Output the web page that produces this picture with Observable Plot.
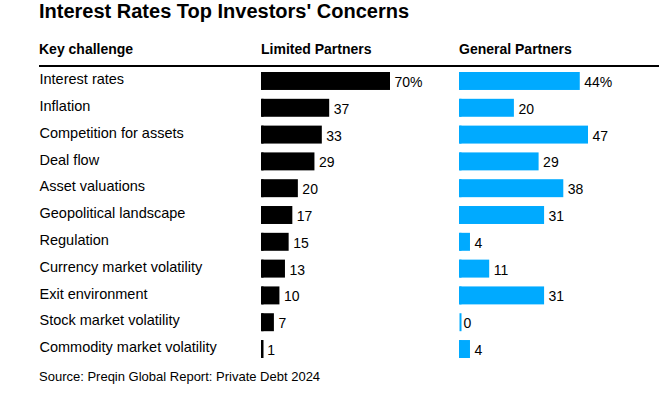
<!DOCTYPE html>
<html>
<head>
<meta charset="utf-8">
<script src="https://cdn.jsdelivr.net/npm/d3@7"></script>
<script src="https://cdn.jsdelivr.net/npm/@observablehq/plot@0.6"></script>
<style>
  html, body { margin: 0; padding: 0; background: #fff; }
  #wrap { position: relative; width: 659px; height: 394px; overflow: hidden; font-family: "Liberation Sans", Arial, sans-serif; color: #000; }
  .abs { position: absolute; white-space: nowrap; }
  #title { left: 39px; top: 0px; font-size: 20px; font-weight: bold; line-height: 22px; }
  .hdr { top: 40px; font-size: 14px; font-weight: bold; line-height: 18px; }
  #rule { left: 39px; top: 65px; width: 620px; height: 2px; background: #000; }
  #source { left: 39px; top: 369px; font-size: 13px; line-height: 16px; }
  #lp, #gp { position: absolute; top: 0; }
  #lp { left: 0; }
  #gp { left: 440px; }
  svg { overflow: visible; }
</style>
</head>
<body>
<div id="wrap">
  <div id="title" class="abs">Interest Rates Top Investors' Concerns</div>
  <div class="abs hdr" style="left:39px">Key challenge</div>
  <div class="abs hdr" style="left:261px">Limited Partners</div>
  <div class="abs hdr" style="left:459px">General Partners</div>
  <div id="rule" class="abs"></div>
  <div id="lp"></div>
  <div id="gp"></div>
  <div id="source" class="abs">Source: Preqin Global Report: Private Debt 2024</div>
</div>
<script>
const challenges = [
  "Interest rates",
  "Inflation",
  "Competition for assets",
  "Deal flow",
  "Asset valuations",
  "Geopolitical landscape",
  "Regulation",
  "Currency market volatility",
  "Exit environment",
  "Stock market volatility",
  "Commodity market volatility"
];
const limitedPartners = [70, 37, 33, 29, 20, 17, 15, 13, 10, 7, 1];
const generalPartners = [44, 20, 47, 29, 38, 31, 4, 11, 31, 0, 4];

const font = "Liberation Sans, Arial, sans-serif";
const H = 370, MT = 72, MB = 12;

function rows(values) {
  return challenges.map((name, i) => ({name, v: values[i], label: i === 0 ? values[i] + "%" : String(values[i])}));
}

function panel(values, color, opts) {
  const data = rows(values);
  const marks = [
    Plot.barX(data, {y: "name", x1: 0, x2: "v", fill: color}),
    Plot.tickX(data, {y: "name", x: 0, stroke: color, strokeWidth: 2, dx: 1}),
    Plot.text(data, {y: "name", x: "v", text: "label", textAnchor: "start", dx: 4, dy: 1, fontSize: 14, fill: "#000", fontFamily: font})
  ];
  if (opts.labels) {
    marks.push(Plot.text(data, {y: "name", text: "name", frameAnchor: "left", textAnchor: "start", dx: 39 - opts.marginLeft, dy: -2, fontSize: 14.5, fill: "#000", fontFamily: font}));
  }
  return Plot.plot({
    width: opts.width,
    height: H,
    marginTop: MT,
    marginBottom: MB,
    marginLeft: opts.marginLeft,
    marginRight: opts.width - opts.marginLeft - 129,
    x: {domain: [0, d3.max(values)], axis: null},
    y: {domain: challenges, axis: null, paddingInner: 0.33, paddingOuter: 0, round: false},
    style: {fontFamily: font, background: "transparent", overflow: "visible"},
    marks
  });
}

document.getElementById("lp").append(panel(limitedPartners, "#000000", {width: 440, marginLeft: 261, labels: true}));
document.getElementById("gp").append(panel(generalPartners, "#00aaff", {width: 219, marginLeft: 19, labels: false}));
</script>
</body>
</html>
